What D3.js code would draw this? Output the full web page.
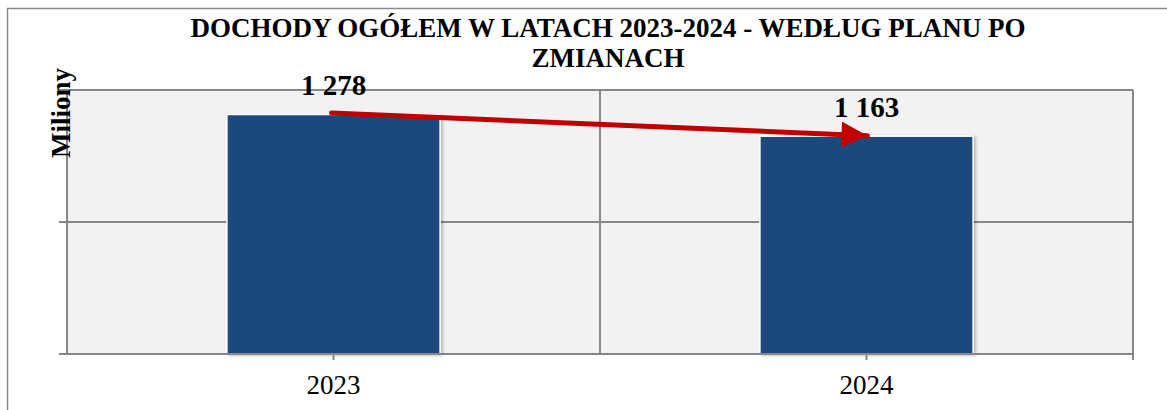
<!DOCTYPE html>
<html><head><meta charset="utf-8">
<script src="https://cdn.jsdelivr.net/npm/d3@7"></script>
<style>html,body{margin:0;padding:0;background:#fff;}svg{display:block;}svg text{font-family:"Liberation Serif","Times New Roman",Times,"DejaVu Serif",serif;}</style>
</head><body>
<svg id="c" width="1167" height="410"></svg>
<script>
const categories = ["2023", "2024"];
const values = [1278, 1163];
const valueLabels = ["1 278", "1 163"];
const yTicks = [0, 700, 1400];
const titleLines = ["DOCHODY OGÓŁEM W LATACH 2023-2024 - WEDŁUG PLANU PO", "ZMIANACH"];
const yAxisTitle = "Miliony";

const W = 1167, H = 410;
const m = {left: 67, right: 34, top: 90, bottom: 56};
const svg = d3.select("#c");

// outer border
svg.append("rect").attr("x", 7.5).attr("y", 8.5).attr("width", 1200).attr("height", 500)
  .attr("fill", "#fff").attr("stroke", "#898989").attr("stroke-width", 1.5);

const x = d3.scaleBand().domain(categories).range([m.left, W - m.right]).paddingInner(0).paddingOuter(0);
const y = d3.scaleLinear().domain([0, 1400]).range([H - m.bottom, m.top]);

const defs = svg.append("defs");
const f = defs.append("filter").attr("id", "sh").attr("x", "-10%").attr("y", "-10%").attr("width", "130%").attr("height", "130%");
f.append("feDropShadow").attr("dx", 2).attr("dy", 1).attr("stdDeviation", 1.5).attr("flood-color", "#000").attr("flood-opacity", 0.25);
defs.append("marker").attr("id", "ah").attr("viewBox", "0 0 10 10").attr("refX", 10).attr("refY", 5)
  .attr("markerWidth", 5.4).attr("markerHeight", 5.2).attr("markerUnits", "strokeWidth").attr("orient", "auto")
  .append("path").attr("d", "M0,0 L10,5 L0,10 Z").attr("fill", "#C00000");

// plot background
svg.append("rect").attr("x", m.left).attr("y", m.top).attr("width", W - m.right - m.left).attr("height", H - m.bottom - m.top)
  .attr("fill", "#F2F2F2");

// horizontal gridlines
svg.append("g").selectAll("line").data(yTicks).join("line")
  .attr("x1", m.left - 8).attr("x2", W - m.right)
  .attr("y1", d => y(d)).attr("y2", d => y(d))
  .attr("stroke", "#878787").attr("stroke-width", 2);
// vertical gridlines between categories + right border
const vlines = [x(categories[1]), W - m.right];
svg.append("g").selectAll("line").data(vlines).join("line")
  .attr("x1", d => d).attr("x2", d => d).attr("y1", m.top).attr("y2", y(0))
  .attr("stroke", "#878787").attr("stroke-width", 2);
// left axis
svg.append("line").attr("x1", m.left).attr("x2", m.left).attr("y1", m.top).attr("y2", y(0))
  .attr("stroke", "#878787").attr("stroke-width", 2);

// bars
const bw = x.bandwidth() * 0.4;
svg.append("g").selectAll("rect").data(values).join("rect")
  .attr("x", (d, i) => x(categories[i]) + (x.bandwidth() - bw) / 2)
  .attr("y", d => y(d) + 1.5).attr("width", bw).attr("height", d => y(0) - y(d) - 1.5)
  .attr("fill", "#1F497D").attr("stroke", "#fff").attr("stroke-width", 1.5).attr("filter", "url(#sh)");

// x axis
const xAxis = d3.axisBottom(x).tickSize(6).tickSizeOuter(0);
const gx = svg.append("g").attr("transform", `translate(0,${y(0)})`).call(xAxis);
gx.attr("font-family", null).attr("font-size", null);
gx.select(".domain").attr("stroke", "#878787").attr("stroke-width", 2).attr("d", `M${m.left - 8},0H${W - m.right}`);
gx.selectAll(".tick line").attr("stroke", "#878787").attr("stroke-width", 2);
gx.selectAll(".tick text").style("font-size", "27px").attr("fill", "#000").attr("dy", 0).attr("y", 40);
gx.append("line").attr("x1", W - m.right).attr("x2", W - m.right).attr("y1", 0).attr("y2", 6).attr("stroke", "#878787").attr("stroke-width", 2);

// arrow
const cx = i => x(categories[i]) + x.bandwidth() / 2;
svg.append("line")
  .attr("x1", cx(0) - 2).attr("y1", y(values[0]))
  .attr("x2", cx(1) + 1).attr("y2", y(values[1]) + 1)
  .attr("stroke", "#C00000").attr("stroke-width", 5).attr("stroke-linecap", "round")
  .attr("marker-end", "url(#ah)");

// value labels
svg.append("g").selectAll("text").data(valueLabels).join("text")
  .attr("x", (d, i) => cx(i)).attr("y", (d, i) => y(values[i]) - 18)
  .attr("text-anchor", "middle").style("font-weight", "bold").style("font-size", "29px")
  .text(d => d);

// title
svg.append("g").selectAll("text").data(titleLines).join("text")
  .attr("x", 608).attr("y", (d, i) => 37 + i * 30)
  .attr("text-anchor", "middle").style("font-weight", "bold").style("font-size", "27px")
  .text(d => d);

// y axis title
svg.append("text").attr("transform", "translate(70,113) rotate(-90)")
  .attr("text-anchor", "middle").style("font-weight", "bold").style("font-size", "27px")
  .text(yAxisTitle);
</script>
</body></html>
